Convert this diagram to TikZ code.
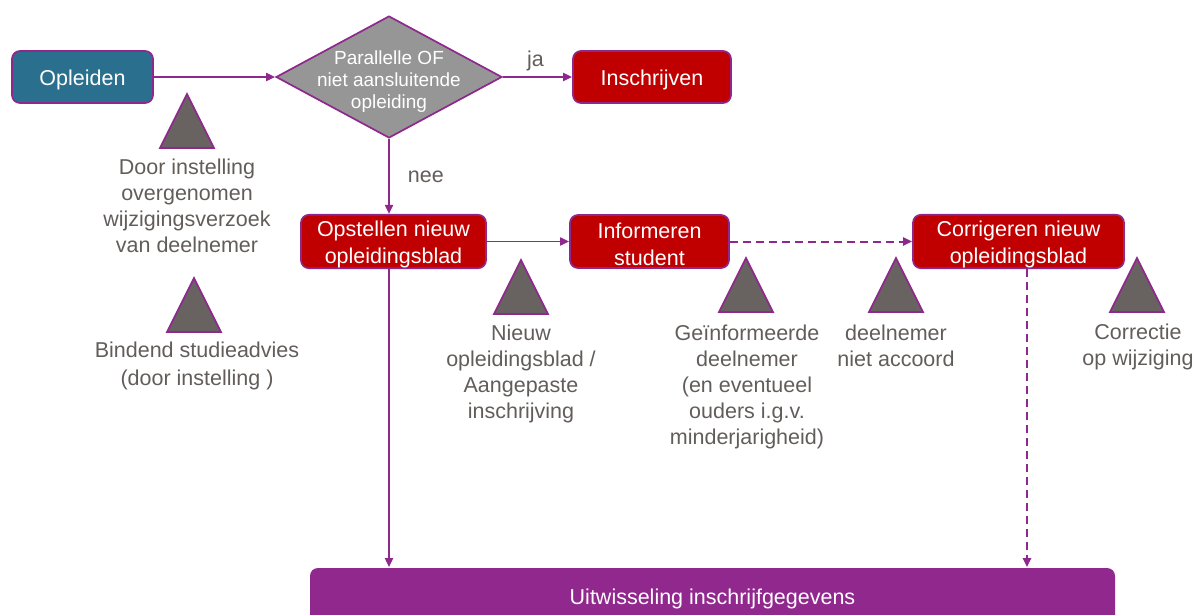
\documentclass[tikz,border=0pt]{standalone}
\usepackage{fontspec}
\setmainfont{Liberation Sans}
\usetikzlibrary{shapes.geometric,arrows.meta,calc}
\definecolor{pborder}{RGB}{142,40,140}
\definecolor{pfill}{RGB}{145,40,141}
\definecolor{tealc}{RGB}{42,112,142}
\definecolor{redc}{RGB}{192,0,0}
\definecolor{dgray}{RGB}{150,150,150}
\definecolor{trig}{RGB}{104,99,96}
\definecolor{txtg}{RGB}{98,93,90}
\newcommand\hdrop[1]{\rule{0pt}{#1}}
\tikzset{
  box/.style={draw=pborder, line width=1.7pt, rounded corners=8pt, text=white, align=center, inner sep=0pt,
    font=\fontsize{21.5}{27}\selectfont},
  redbox/.style={box, fill=redc},
  decision/.style={diamond, draw=pborder, line width=1.7pt, fill=dgray, inner sep=0pt,
    minimum width=226pt, minimum height=122pt},
  dectext/.style={text=white, align=center, inner sep=0pt, font=\fontsize{19}{22}\selectfont},
  lbl/.style={text=txtg, align=center, inner sep=0pt, anchor=north, font=\fontsize{21.5}{26}\selectfont},
  conn/.style={draw=pborder, line width=1.8pt, -{Triangle[length=9pt,width=8pt]}, color=pborder},
  dconn/.style={conn, line width=2pt, dash pattern=on 8pt off 5pt},
  tri/.pic={\draw[draw=pborder, line width=1.7pt, fill=trig, line join=miter] (-27,0) -- (0,-54) -- (27,0) -- cycle;}
}
\begin{document}
\begin{tikzpicture}[x=1pt,y=-1pt]
\useasboundingbox (0,0) rectangle (1197,615);
% nodes
\node[box, fill=tealc, minimum width=141pt, minimum height=52pt] (opl) at (82.5,77) {\hdrop{21pt}Opleiden};
\node[decision] (dec) at (389,77) {};
\node[dectext] (dect) at ([yshift=-4.5pt]dec.center) {Parallelle OF\\niet aansluitende\\opleiding};
\node[redbox, minimum width=158pt, minimum height=52pt] (ins) at (652,77) {\hdrop{21pt}Inschrijven};
\node[redbox, minimum width=185pt, minimum height=53pt] (ops) at (393.5,241.5) {\hdrop{22pt}Opstellen nieuw\\opleidingsblad};
\node[redbox, minimum width=159pt, minimum height=53pt] (inf) at (649.5,241.5) {\hdrop{22pt}Informeren\\student};
\node[redbox, minimum width=211pt, minimum height=53pt] (cor) at (1018.5,241.5) {\hdrop{22pt}Corrigeren nieuw\\opleidingsblad};
\node[box, fill=pfill, draw=none, minimum width=805pt, minimum height=58pt] (uit) at (712.5,597) {\hdrop{20pt}Uitwisseling inschrijfgegevens};
% triangles
\pic at (187,148) {tri};
\pic at (194,332) {tri};
\pic at (521,314) {tri};
\pic at (746,312) {tri};
\pic at (896,312) {tri};
\pic at (1137,312) {tri};
% labels
\node[lbl] (l1) at (187,159) {Door instelling\\overgenomen\\wijzigingsverzoek\\van deelnemer};
\node[lbl, font=\fontsize{21.5}{28}\selectfont] (l6) at (197,342) {Bindend studieadvies\\(door instelling )};
\node[lbl] (l2) at (521,325) {Nieuw\\opleidingsblad /\\Aangepaste\\inschrijving};
\node[lbl] (l3) at (747,325) {Geïnformeerde\\deelnemer\\(en eventueel\\ouders i.g.v.\\minderjarigheid)};
\node[lbl] (l4) at (896,325) {deelnemer\\niet accoord};
\node[lbl] (l5) at (1138,324) {Correctie\\op wijziging};
% connectors
\draw[conn] (opl.east) -- (dec.west);
\draw[conn] (dec.east) -- node[pos=0.47, above=5pt, text=txtg, font=\fontsize{21.5}{26}\selectfont, inner sep=0pt] (ja) {ja} (ins.west);
\draw[conn] (dec.south) -- node[pos=0.5, right=18pt, text=txtg, font=\fontsize{21.5}{26}\selectfont, inner sep=0pt] (nee) {nee} (dec.south |- ops.north);
\draw[conn] (ops.east) -- (inf.west);
\draw[dconn] (inf.east) -- (cor.west);
\draw[conn] (dec.south |- ops.south) -- (dec.south |- uit.north);
\draw[dconn] ([xshift=8.5pt]cor.south) -- ([xshift=8.5pt]cor.south |- uit.north);
\end{tikzpicture}
\end{document}
